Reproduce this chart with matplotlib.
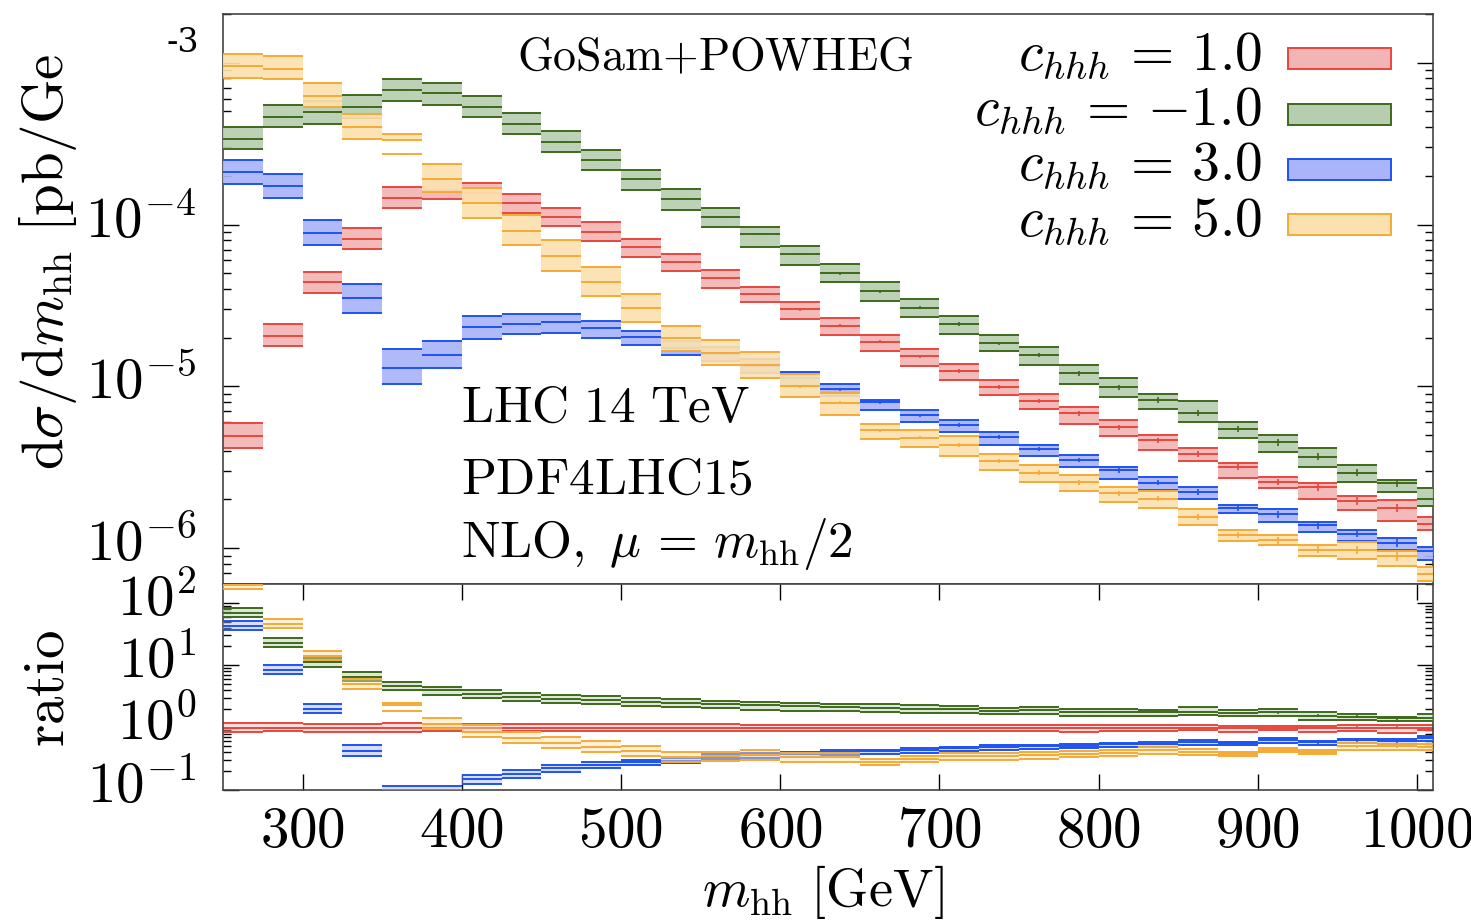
import numpy as np
import matplotlib
matplotlib.use("Agg")
import matplotlib.pyplot as plt
import matplotlib.transforms as mtransforms
from matplotlib.patches import Rectangle
from matplotlib.ticker import LogLocator, FixedLocator, FixedFormatter, NullFormatter

plt.rcParams["mathtext.fontset"] = "cm"
plt.rcParams["font.family"] = ["DejaVu Serif"]

# m_hh binning [GeV]
edges = np.arange(250, 1026, 25)

# dsigma/dm_hh [pb/GeV]: central value, upper and lower scale variation
c1_mid = [4.91e-6, 2.04e-5, 4.40e-5, 8.16e-5, 1.46e-4, 1.64e-4, 1.56e-4, 1.35e-4, 1.12e-4, 9.01e-5,
          7.28e-5, 5.85e-5, 4.64e-5, 3.72e-5, 2.99e-5, 2.37e-5, 1.88e-5, 1.53e-5, 1.24e-5, 9.96e-6,
          8.11e-6, 6.81e-6, 5.58e-6, 4.64e-6, 3.80e-6, 3.16e-6, 2.57e-6, 2.37e-6, 1.95e-6, 1.78e-6, 1.40e-6]
c1_hi = [5.91e-6, 2.41e-5, 5.11e-5, 9.45e-5, 1.71e-4, 1.90e-4, 1.81e-4, 1.55e-4, 1.27e-4, 1.03e-4,
         8.19e-5, 6.56e-5, 5.22e-5, 4.12e-5, 3.30e-5, 2.64e-5, 2.09e-5, 1.70e-5, 1.37e-5, 1.10e-5,
         8.97e-6, 7.49e-6, 6.19e-6, 5.03e-6, 4.18e-6, 3.38e-6, 2.77e-6, 2.54e-6, 2.11e-6, 1.99e-6, 1.55e-6]
c1_lo = [4.14e-6, 1.77e-5, 3.79e-5, 7.04e-5, 1.26e-4, 1.43e-4, 1.35e-4, 1.17e-4, 9.76e-5, 7.89e-5,
         6.32e-5, 5.15e-5, 4.08e-5, 3.30e-5, 2.62e-5, 2.07e-5, 1.65e-5, 1.34e-5, 1.09e-5, 8.89e-6,
         7.21e-6, 5.89e-6, 4.96e-6, 4.04e-6, 3.43e-6, 2.73e-6, 2.36e-6, 2.00e-6, 1.71e-6, 1.47e-6, 1.30e-6]

cm1_mid = [3.40e-4, 4.64e-4, 4.93e-4, 5.35e-4, 6.75e-4, 6.46e-4, 5.35e-4, 4.18e-4, 3.25e-4, 2.49e-4,
           1.90e-4, 1.43e-4, 1.12e-4, 8.71e-5, 6.56e-5, 5.00e-5, 3.86e-5, 3.06e-5, 2.42e-5, 1.84e-5,
           1.56e-5, 1.20e-5, 9.90e-6, 8.23e-6, 6.84e-6, 5.45e-6, 4.51e-6, 3.68e-6, 2.93e-6, 2.52e-6, 2.02e-6]
cm1_hi = [4.01e-4, 5.51e-4, 5.83e-4, 6.35e-4, 7.96e-4, 7.45e-4, 6.19e-4, 4.89e-4, 3.79e-4, 2.89e-4,
          2.16e-4, 1.65e-4, 1.26e-4, 9.68e-5, 7.39e-5, 5.74e-5, 4.43e-5, 3.46e-5, 2.73e-5, 2.09e-5,
          1.74e-5, 1.35e-5, 1.12e-5, 8.97e-6, 8.08e-6, 6.05e-6, 5.03e-6, 4.16e-6, 3.25e-6, 2.64e-6, 2.35e-6]
cm1_lo = [2.93e-4, 3.99e-4, 4.16e-4, 4.58e-4, 5.80e-4, 5.45e-4, 4.62e-4, 3.61e-4, 2.82e-4, 2.16e-4,
          1.64e-4, 1.23e-4, 9.62e-5, 7.21e-5, 5.61e-5, 4.39e-5, 3.38e-5, 2.67e-5, 2.12e-5, 1.65e-5,
          1.35e-5, 1.03e-5, 8.55e-6, 7.24e-6, 6.02e-6, 4.82e-6, 3.91e-6, 3.16e-6, 2.58e-6, 2.23e-6, 1.81e-6]

c3_mid = [2.10e-4, 1.72e-4, 8.89e-5, 3.49e-5, 1.30e-5, 1.57e-5, 2.32e-5, 2.42e-5, 2.48e-5, 2.28e-5,
          2.03e-5, 1.72e-5, 1.58e-5, 1.33e-5, 1.12e-5, 9.58e-6, 7.96e-6, 6.62e-6, 5.77e-6, 4.86e-6,
          4.10e-6, 3.51e-6, 3.02e-6, 2.54e-6, 2.22e-6, 1.77e-6, 1.62e-6, 1.38e-6, 1.23e-6, 1.08e-6, 9.54e-7]
c3_hi = [2.49e-4, 2.06e-4, 1.07e-4, 4.28e-5, 1.70e-5, 1.90e-5, 2.73e-5, 2.78e-5, 2.81e-5, 2.53e-5,
         2.21e-5, 1.90e-5, 1.74e-5, 1.47e-5, 1.22e-5, 1.04e-5, 8.23e-6, 7.18e-6, 6.17e-6, 5.22e-6,
         4.34e-6, 3.77e-6, 3.19e-6, 2.77e-6, 2.40e-6, 1.85e-6, 1.74e-6, 1.45e-6, 1.29e-6, 1.16e-6, 1.02e-6]
c3_lo = [1.79e-4, 1.45e-4, 7.49e-5, 2.85e-5, 1.03e-5, 1.29e-5, 1.95e-5, 2.12e-5, 2.15e-5, 2.00e-5,
         1.80e-5, 1.56e-5, 1.43e-5, 1.20e-5, 1.01e-5, 8.68e-6, 7.14e-6, 5.99e-6, 5.20e-6, 4.32e-6,
         3.71e-6, 3.16e-6, 2.68e-6, 2.29e-6, 2.02e-6, 1.64e-6, 1.44e-6, 1.25e-6, 1.10e-6, 9.68e-7, 8.47e-7]

c5_mid = [9.54e-4, 9.18e-4, 6.23e-4, 4.01e-4, 2.72e-4, 1.90e-4, 1.35e-4, 9.09e-5, 6.37e-5, 4.40e-5,
          3.06e-5, 2.00e-5, 1.61e-5, 1.35e-5, 1.00e-5, 7.93e-6, 5.35e-6, 4.82e-6, 4.34e-6, 3.46e-6,
          2.93e-6, 2.55e-6, 2.19e-6, 2.02e-6, 1.55e-6, 1.20e-6, 1.12e-6, 9.76e-7, 9.72e-7, 8.89e-7, 6.91e-7]
c5_hi = [1.125e-3, 1.104e-3, 7.45e-4, 4.84e-4, 3.63e-4, 2.36e-4, 1.69e-4, 1.15e-4, 8.00e-5, 5.43e-5,
         3.71e-5, 2.36e-5, 1.92e-5, 1.62e-5, 1.19e-5, 9.14e-6, 5.83e-6, 5.37e-6, 4.93e-6, 3.84e-6,
         3.27e-6, 2.82e-6, 2.40e-6, 2.27e-6, 1.74e-6, 1.30e-6, 1.20e-6, 1.04e-6, 1.09e-6, 9.54e-7, 7.63e-7]
c5_lo = [8.08e-4, 7.93e-4, 5.35e-4, 3.38e-4, 3.31e-4, 1.58e-4, 1.09e-4, 7.52e-5, 5.18e-5, 3.63e-5,
         2.51e-5, 1.66e-5, 1.35e-5, 1.12e-5, 8.55e-6, 6.69e-6, 4.71e-6, 4.24e-6, 3.73e-6, 3.04e-6,
         2.58e-6, 2.27e-6, 1.93e-6, 1.78e-6, 1.38e-6, 1.10e-6, 1.04e-6, 8.89e-7, 8.59e-7, 7.71e-7, 6.23e-7]

# relative statistical error per bin (small vertical bars)
stat_rel = [0.004, 0.004, 0.005, 0.005, 0.006, 0.006, 0.007, 0.008, 0.009, 0.010,
            0.011, 0.012, 0.014, 0.015, 0.017, 0.019, 0.021, 0.023, 0.025, 0.027,
            0.030, 0.032, 0.035, 0.038, 0.041, 0.044, 0.047, 0.050, 0.054, 0.058, 0.062]

labels = [r"$c_{hhh}\,=\,1.0$", r"$c_{hhh}\,=\,{-}1.0$", r"$c_{hhh}\,=\,3.0$", r"$c_{hhh}\,=\,5.0$"]
series = [(c1_mid, c1_hi, c1_lo), (cm1_mid, cm1_hi, cm1_lo), (c3_mid, c3_hi, c3_lo), (c5_mid, c5_hi, c5_lo)]
fills = ["#f3b4b4", "#b7cdaf", "#aab4f9", "#fbe1b0"]
lines = ["#e8463e", "#3e6a1c", "#1d52f2", "#f5aa35"]

xticks = [300, 400, 500, 600, 700, 800, 900, 1000]

W, H = 1471, 922
fig = plt.figure(figsize=(W / 100, H / 100), dpi=100)


def box(x0, y0, x1, y1):
    return [x0 / W, 1 - y1 / H, (x1 - x0) / W, (y1 - y0) / H]


ax = fig.add_axes(box(223, 14, 1433, 584))
axr = fig.add_axes(box(223, 584, 1433, 790))

x0 = edges[:-1]
x1 = edges[1:]
xc = 0.5 * (x0 + x1)
stat = np.array(stat_rel)


def draw_bands(a, mid, hi, lo, fill, line, alpha, z):
    mid, hi, lo = np.asarray(mid), np.asarray(hi), np.asarray(lo)
    a.bar(x0, hi - lo, bottom=lo, width=25, align="edge", color=fill,
          alpha=alpha, linewidth=0, zorder=z)
    ys = np.concatenate([hi, lo, mid])
    a.hlines(ys, np.tile(x0, 3), np.tile(x1, 3), colors=line, lw=1.4, zorder=z + 0.1)
    a.vlines(xc, mid * (1 - stat), mid * (1 + stat), colors=line, lw=1.2, zorder=z + 0.1)


ref = np.array(c1_mid)
for i, (mid, hi, lo) in enumerate(series):
    draw_bands(ax, mid, hi, lo, fills[i], lines[i], 0.92, 2 + i)
    draw_bands(axr, np.array(mid) / ref, np.array(hi) / ref, np.array(lo) / ref,
               fills[i], lines[i], 0.45, 2 + i)

fs = 41
for a in (ax, axr):
    a.set_yscale("log")
    a.set_xlim(250, 1010)
    for s in a.spines.values():
        s.set_linewidth(1.2)
        s.set_color("#444444")
    a.tick_params(which="both", direction="in", left=True, right=True, colors="black",
                  width=1.0, labelsize=fs, pad=19)
    a.tick_params(which="major", length=11.5)
    a.tick_params(which="minor", length=5.8)

# upper panel
ax.set_ylim(6.0e-7, 2.0e-3)
ax.yaxis.set_major_locator(FixedLocator([1e-6, 1e-5, 1e-4, 1e-3]))
ax.yaxis.set_major_formatter(FixedFormatter([r"$10^{-6}$", r"$10^{-5}$", r"$10^{-4}$", ""]))
ax.yaxis.set_minor_locator(LogLocator(base=10, subs=np.arange(2, 10), numticks=20))
ax.yaxis.set_minor_formatter(NullFormatter())
ax.set_xticks(xticks)
ax.tick_params(axis="x", which="both", bottom=False, top=False, labelbottom=False)

# ratio panel
axr.set_ylim(0.1, 200)
axr.yaxis.set_major_locator(FixedLocator([0.1, 1, 10, 100]))
axr.yaxis.set_major_formatter(FixedFormatter([r"$10^{-1}$", r"$10^{0}$", r"$10^{1}$", r"$10^{2}$"]))
axr.yaxis.set_minor_locator(LogLocator(base=10, subs=np.arange(2, 10), numticks=20))
axr.yaxis.set_minor_formatter(NullFormatter())
axr.set_xticks(xticks)
axr.set_xticklabels([rf"${t}$" for t in xticks])
axr.tick_params(axis="x", which="major", top=True, bottom=True, length=11.5, pad=9)

# y tick labels sit a little above their ticks
shift = mtransforms.ScaledTranslation(0, 9 / 100, fig.dpi_scale_trans)
for a in (ax, axr):
    for lab in a.get_yticklabels():
        lab.set_transform(lab.get_transform() + shift)


def fx(x):
    return x / W


def fy(y):
    return 1 - y / H


# axis titles
fig.text(fx(48), fy(470), r"$\mathrm{d}\sigma/\mathrm{d}m_{\mathrm{hh}}\ [\mathrm{pb/Ge}$",
         rotation=90, ha="center", va="bottom", fontsize=fs)
fig.text(fx(48), fy(688), r"$\mathrm{ratio}$", rotation=90, ha="center", va="center", fontsize=fs)
fig.text(fx(823), fy(906), r"$m_{\mathrm{hh}}\ [\mathrm{GeV}]$", ha="center", va="baseline", fontsize=39)
fig.text(fx(183), fy(43), "-3", ha="center", va="center", fontsize=24, family="DejaVu Serif")

# annotations
fig.text(fx(517), fy(70), r"$\mathrm{GoSam{+}POWHEG}$", ha="left", va="baseline", fontsize=33)
fig.text(fx(461), fy(422), r"$\mathrm{LHC\ 14\ TeV}$", ha="left", va="baseline", fontsize=37)
fig.text(fx(461), fy(494), r"$\mathrm{PDF4LHC15}$", ha="left", va="baseline", fontsize=37)
fig.text(fx(461), fy(557), r"$\mathrm{NLO},\ \mu\,=\,m_{\mathrm{hh}}/2$", ha="left", va="baseline", fontsize=37)

# legend
baselines = [70, 125, 180, 236]
box_tops = [48, 104, 159, 214]
for i in range(4):
    fig.text(fx(1262), fy(baselines[i]), labels[i], ha="right", va="baseline", fontsize=40)
    fig.add_artist(Rectangle((fx(1288), fy(box_tops[i] + 21)), 103 / W, 21 / H,
                             transform=fig.transFigure, facecolor=fills[i],
                             edgecolor=lines[i], lw=1.4))

fig.savefig("out.png", dpi=100)
